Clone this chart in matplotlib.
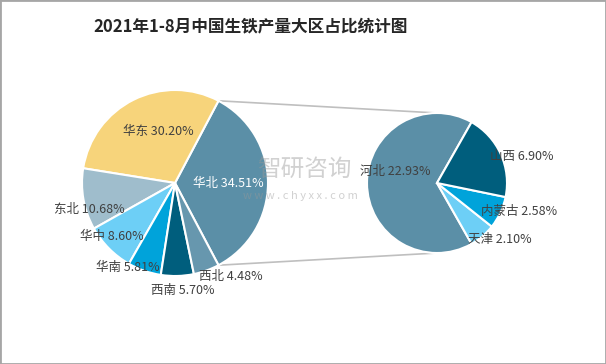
import numpy as np
import matplotlib.pyplot as plt
from matplotlib.patches import Rectangle

plt.rcParams['font.family'] = ['Noto Sans CJK SC', 'DejaVu Sans']

# left pie: regions
regions = ['华北', '华东', '东北', '华中', '华南', '西南', '西北']
region_share = [34.51, 30.20, 10.68, 8.60, 5.81, 5.70, 4.48]
region_colors = ['#5B8FA7', '#F7D47B', '#9FBDCC', '#6DCFF6', '#00A3DA', '#005E7D', '#6797AE']

# right pie: breakdown of 华北
provinces = ['河北', '天津', '内蒙古', '山西']
province_share = [22.93, 2.10, 2.58, 6.90]
province_colors = ['#5B8FA7', '#6DCFF6', '#00A3DA', '#005E7D']

# label placement (radius factor, angle in degrees)
region_lbl = [(0.57, 0), (0.58, 108), (0.96, 197), (0.89, 220), (1.04, 241), (1.16, 274), (1.17, 301)]
province_lbl = [(0.62, 165), (1.21, 318), (1.24, 340.5), (1.27, 17.6)]

W, H = 606, 364
fig = plt.figure(figsize=(W / 100, H / 100), dpi=100)
ax = fig.add_axes([0, 0, 1, 1])
ax.set_xlim(0, W)
ax.set_ylim(0, H)
ax.set_aspect('equal')
ax.axis('off')

c1, r1 = (175, 181), 93
c2, r2 = (437, 181), 70

big = region_share[0] / sum(region_share) * 360
w1, _ = ax.pie(region_share, colors=region_colors, startangle=-big / 2,
               center=c1, radius=r1, frame=True,
               wedgeprops=dict(edgecolor='white', linewidth=1.5))
small = sum(province_share[1:]) / sum(province_share) * 360
w2, _ = ax.pie(province_share, colors=province_colors, startangle=small / 2,
               center=c2, radius=r2, frame=True,
               wedgeprops=dict(edgecolor='white', linewidth=1.5))
ax.set_xlim(0, W)
ax.set_ylim(0, H)
ax.axis('off')

# connector lines
t1, t2 = np.deg2rad(w1[0].theta1), np.deg2rad(w1[0].theta2)
ax.plot([c1[0] + r1 * np.cos(t2), c2[0]], [c1[1] + r1 * np.sin(t2), c2[1] + r2],
        color='#BFBFBF', lw=1.2, zorder=0)
ax.plot([c1[0] + r1 * np.cos(t1), c2[0]], [c1[1] + r1 * np.sin(t1), c2[1] - r2],
        color='#BFBFBF', lw=1.2, zorder=0)

for name, v, (f, a) in zip(regions, region_share, region_lbl):
    x = c1[0] + r1 * f * np.cos(np.deg2rad(a))
    y = c1[1] + r1 * f * np.sin(np.deg2rad(a))
    col = 'white' if name == '华北' else '#404040'
    ax.text(x, y, f'{name} {v:.2f}%', ha='center', va='center', fontsize=9, color=col)

for name, v, (f, a) in zip(provinces, province_share, province_lbl):
    x = c2[0] + r2 * f * np.cos(np.deg2rad(a))
    y = c2[1] + r2 * f * np.sin(np.deg2rad(a))
    ax.text(x, y, f'{name} {v:.2f}%', ha='center', va='center', fontsize=9, color='#404040')

# watermark
ax.text(304, H - 170, '智研咨询', ha='center', va='center', fontsize=17,
        color='#999999', alpha=0.45)
ax.text(300, H - 196, 'w w w . c h y x x . c o m', ha='center', va='center',
        fontsize=8, color='#999999', alpha=0.45)

fig.text(251 / W, 1 - 26 / H, '2021年1-8月中国生铁产量大区占比统计图', ha='center',
         va='center', fontsize=12, fontweight='bold', color='#262626')

fig.patches.append(Rectangle((0, 0), 1, 1, transform=fig.transFigure, fill=False,
                             edgecolor='#A6A6A6', linewidth=2))

fig.savefig('out.png', dpi=100)
